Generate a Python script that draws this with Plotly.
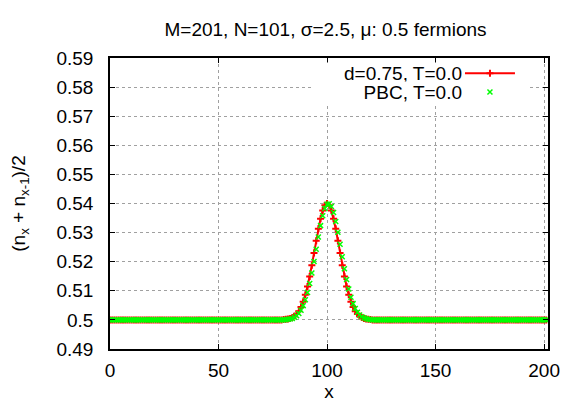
import plotly.graph_objects as go

# site index
x_sites = list(range(0, 202))

# density profile around the impurity, sites 80..120
open_peak = [0.5001, 0.5002, 0.5003, 0.5005, 0.5008, 0.5013, 0.5020, 0.5030,
             0.5044, 0.5062, 0.5086, 0.5115, 0.5149, 0.5188, 0.5230, 0.5272,
             0.5313, 0.5348, 0.5376, 0.5394, 0.5400, 0.5394, 0.5376, 0.5348,
             0.5313, 0.5272, 0.5230, 0.5188, 0.5149, 0.5115, 0.5086, 0.5062,
             0.5044, 0.5030, 0.5020, 0.5013, 0.5008, 0.5005, 0.5003, 0.5002,
             0.5001]
pbc_peak = [0.5000, 0.5001, 0.5002, 0.5003, 0.5005, 0.5009, 0.5014, 0.5022,
            0.5033, 0.5049, 0.5069, 0.5094, 0.5125, 0.5161, 0.5201, 0.5243,
            0.5285, 0.5324, 0.5358, 0.5383, 0.5397, 0.5399, 0.5390, 0.5369,
            0.5338, 0.5301, 0.5260, 0.5217, 0.5176, 0.5139, 0.5106, 0.5078,
            0.5056, 0.5039, 0.5026, 0.5017, 0.5011, 0.5007, 0.5004, 0.5002,
            0.5001]
background = 0.5
density_open = [background] * 80 + open_peak + [background] * 81
density_pbc = [background] * 80 + pbc_peak + [background] * 81

y_ticks = [0.49, 0.50, 0.51, 0.52, 0.53, 0.54, 0.55, 0.56, 0.57, 0.58, 0.59]
y_labels = ["0.49", "0.5", "0.51", "0.52", "0.53", "0.54", "0.55", "0.56",
            "0.57", "0.58", "0.59"]
x_ticks = [0, 50, 100, 150, 200]
series_names = ["d=0.75, T=0.0", "PBC, T=0.0"]

font = "Liberation Sans, Arial, sans-serif"
row_y = [0.948, 0.883]  # legend rows, paper coords

fig = go.Figure()
fig.add_scatter(x=x_sites, y=density_open, mode="lines+markers", name=" ",
                legend="legend",
                line={"color": "#ff0000", "width": 2},
                marker={"symbol": "cross-thin", "size": 5,
                        "line": {"color": "#ff0000", "width": 2}})
fig.add_scatter(x=x_sites, y=density_pbc, mode="markers", name=" ",
                legend="legend2",
                marker={"symbol": "x-thin", "size": 5,
                        "line": {"color": "#00ff00", "width": 1.5}})

# gnuplot-style legend: text to the left of the samples
for label, y in zip(series_names, row_y):
    fig.add_annotation(xref="paper", yref="paper", x=0.806, y=y,
                       xanchor="right", yanchor="middle", showarrow=False,
                       width=150, align="right", bgcolor="white", borderpad=0,
                       text=label, font={"size": 19, "color": "black"})

axis_style = dict(showline=True, linecolor="black", linewidth=1.5, mirror="ticks",
                  ticks="inside", ticklen=5, tickcolor="black",
                  showgrid=True, gridcolor="#a0a0a0", griddash="dot",
                  gridwidth=1, zeroline=False, automargin=False,
                  tickfont={"size": 19, "color": "black"})

fig.update_xaxes(range=[0, 201.8], tickvals=x_ticks, ticklabelstandoff=3,
                 title={"text": "x", "font": {"size": 19}, "standoff": 0},
                 **axis_style)
fig.update_yaxes(range=[0.49, 0.59], tickvals=y_ticks, ticktext=y_labels,
                 ticklabelstandoff=11,
                 title={"text": "(n<sub>x</sub> + n<sub>x-1</sub>)/2",
                        "font": {"size": 19}, "standoff": 26},
                 **axis_style)

legend_style = dict(x=0.799, xanchor="left", yanchor="middle",
                    bgcolor="white", borderwidth=0, itemwidth=50,
                    font={"size": 11})

# the page body adds an 8px offset, so margins are shifted by that amount
fig.update_layout(
    width=581, height=407,
    margin={"l": 102, "r": 41, "t": 50, "b": 66},
    paper_bgcolor="white", plot_bgcolor="white",
    font={"family": font, "color": "black"},
    title={"text": "M=201, N=101, σ=2.5, μ: 0.5 fermions",
           "x": 0.5465, "xanchor": "center", "y": 0.947, "yanchor": "middle",
           "font": {"size": 19}},
    showlegend=True,
    legend=dict(y=row_y[0], **legend_style),
    legend2=dict(y=row_y[1], **legend_style),
)

fig.write_html("out.html")
